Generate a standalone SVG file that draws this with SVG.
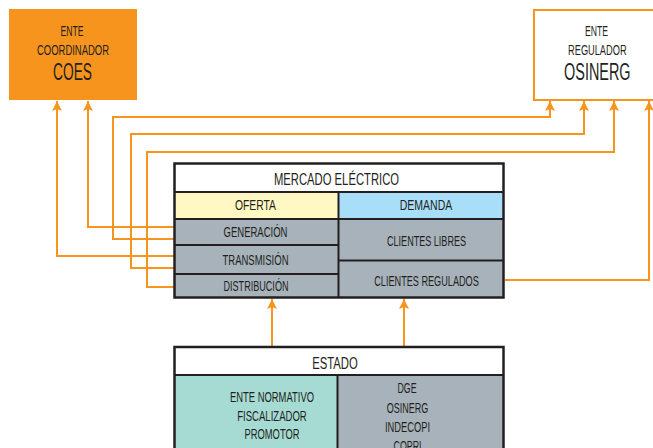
<svg xmlns="http://www.w3.org/2000/svg" width="653" height="448" viewBox="0 0 653 448">
<style>
text{font-family:"Liberation Sans",Arial,sans-serif;fill:#231F20;text-anchor:middle}
.s{font-size:14px}
.t{font-size:16px}
.b{font-size:23px}
.conn{fill:none;stroke:#F7941D;stroke-width:2}
.cell{stroke:#231F20;stroke-width:2}
.gray{fill:#A7B2BA}
.outer{fill:none;stroke:#231F20;stroke-width:2.5}
</style>
<defs>
<marker id="ah" markerUnits="userSpaceOnUse" markerWidth="11" markerHeight="10" refX="10" refY="5" orient="auto">
<path d="M0,0 L10,5 L0,10 L2,5 z" fill="#F7941D"/>
</marker>
</defs>
<rect width="653" height="448" fill="#fff"/>
<g id="coes">
<rect x="9" y="9" width="128" height="91" fill="#F7941D"/>
<text class="s" x="72" y="36" textLength="23" lengthAdjust="spacingAndGlyphs">ENTE</text>
<text class="s" x="73" y="55" textLength="72" lengthAdjust="spacingAndGlyphs">COORDINADOR</text>
<text class="b" x="72.5" y="80" textLength="39" lengthAdjust="spacingAndGlyphs">COES</text>
</g>
<g id="osinerg">
<rect x="534" y="10" width="119" height="90" fill="#fff"/>
<path d="M653,10 H534 V100 H653" fill="none" stroke="#F7941D" stroke-width="2"/>
<text class="s" x="596.5" y="36" textLength="23" lengthAdjust="spacingAndGlyphs">ENTE</text>
<text class="s" x="597.3" y="55" textLength="58.5" lengthAdjust="spacingAndGlyphs">REGULADOR</text>
<text class="b" x="597.3" y="80" textLength="66.5" lengthAdjust="spacingAndGlyphs">OSINERG</text>
</g>
<g id="connectors">
<path class="conn" d="M174,256 H57 V101" marker-end="url(#ah)"/>
<path class="conn" d="M174,227 H88 V101" marker-end="url(#ah)"/>
<path class="conn" d="M174,239 H113 V117 H550 V101" marker-end="url(#ah)"/>
<path class="conn" d="M174,268 H131 V134 H584 V101" marker-end="url(#ah)"/>
<path class="conn" d="M174,287 H147 V152 H614 V101" marker-end="url(#ah)"/>
<path class="conn" d="M505,280 H649 V101" marker-end="url(#ah)"/>
<path class="conn" d="M272,346 V299" marker-end="url(#ah)"/>
<path class="conn" d="M404,346 V299" marker-end="url(#ah)"/>
</g>
<g id="mercado">
<rect x="174.5" y="163.5" width="329" height="28.5" fill="#fff"/>
<rect x="174.5" y="192" width="164" height="27" fill="#FFF8C2"/>
<rect x="338.5" y="192" width="165" height="27" fill="#A9DEF8"/>
<rect class="gray" x="174.5" y="219" width="329" height="78.5"/>
<path class="cell" fill="none" d="M174.5,192 H503.5 M338.5,192 V297.5 M174.5,219 H503.5 M174.5,245 H338.5 M174.5,274 H338.5 M338.5,260.5 H503.5"/>
<rect class="outer" x="174.5" y="163.5" width="329" height="134"/>
<text class="t" x="336.5" y="185" textLength="125" lengthAdjust="spacingAndGlyphs">MERCADO ELÉCTRICO</text>
<text class="s" x="255.5" y="210" textLength="41" lengthAdjust="spacingAndGlyphs">OFERTA</text>
<text class="s" x="426" y="210" textLength="52.5" lengthAdjust="spacingAndGlyphs">DEMANDA</text>
<text class="s" x="255.5" y="237" textLength="64" lengthAdjust="spacingAndGlyphs">GENERACIÓN</text>
<text class="s" x="255.5" y="265" textLength="66" lengthAdjust="spacingAndGlyphs">TRANSMISIÓN</text>
<text class="s" x="256" y="291" textLength="65" lengthAdjust="spacingAndGlyphs">DISTRIBUCIÓN</text>
<text class="s" x="426.5" y="245.5" textLength="79" lengthAdjust="spacingAndGlyphs">CLIENTES LIBRES</text>
<text class="s" x="426.5" y="285.5" textLength="104.5" lengthAdjust="spacingAndGlyphs">CLIENTES REGULADOS</text>
</g>
<g id="estado">
<rect x="174.5" y="347" width="329" height="28" fill="#fff"/>
<rect x="174.5" y="375" width="163" height="80" fill="#A6DBD3"/>
<rect class="gray" x="337.5" y="375" width="166" height="80"/>
<path class="cell" fill="none" d="M174.5,375 H503.5 M337.5,375 V455"/>
<rect class="outer" x="174.5" y="347" width="329" height="110"/>
<text class="t" x="335" y="369" textLength="45.5" lengthAdjust="spacingAndGlyphs">ESTADO</text>
<text class="s" x="272" y="401.5" textLength="84" lengthAdjust="spacingAndGlyphs">ENTE NORMATIVO</text>
<text class="s" x="272" y="420.5" textLength="69.5" lengthAdjust="spacingAndGlyphs">FISCALIZADOR</text>
<text class="s" x="272" y="439" textLength="55" lengthAdjust="spacingAndGlyphs">PROMOTOR</text>
<text class="s" x="407" y="393" textLength="19" lengthAdjust="spacingAndGlyphs">DGE</text>
<text class="s" x="407.5" y="412.5" textLength="41.5" lengthAdjust="spacingAndGlyphs">OSINERG</text>
<text class="s" x="407.5" y="431.5" textLength="45" lengthAdjust="spacingAndGlyphs">INDECOPI</text>
<text class="s" x="407.5" y="450.5" textLength="28" lengthAdjust="spacingAndGlyphs">COPRI</text>
</g>
</svg>
